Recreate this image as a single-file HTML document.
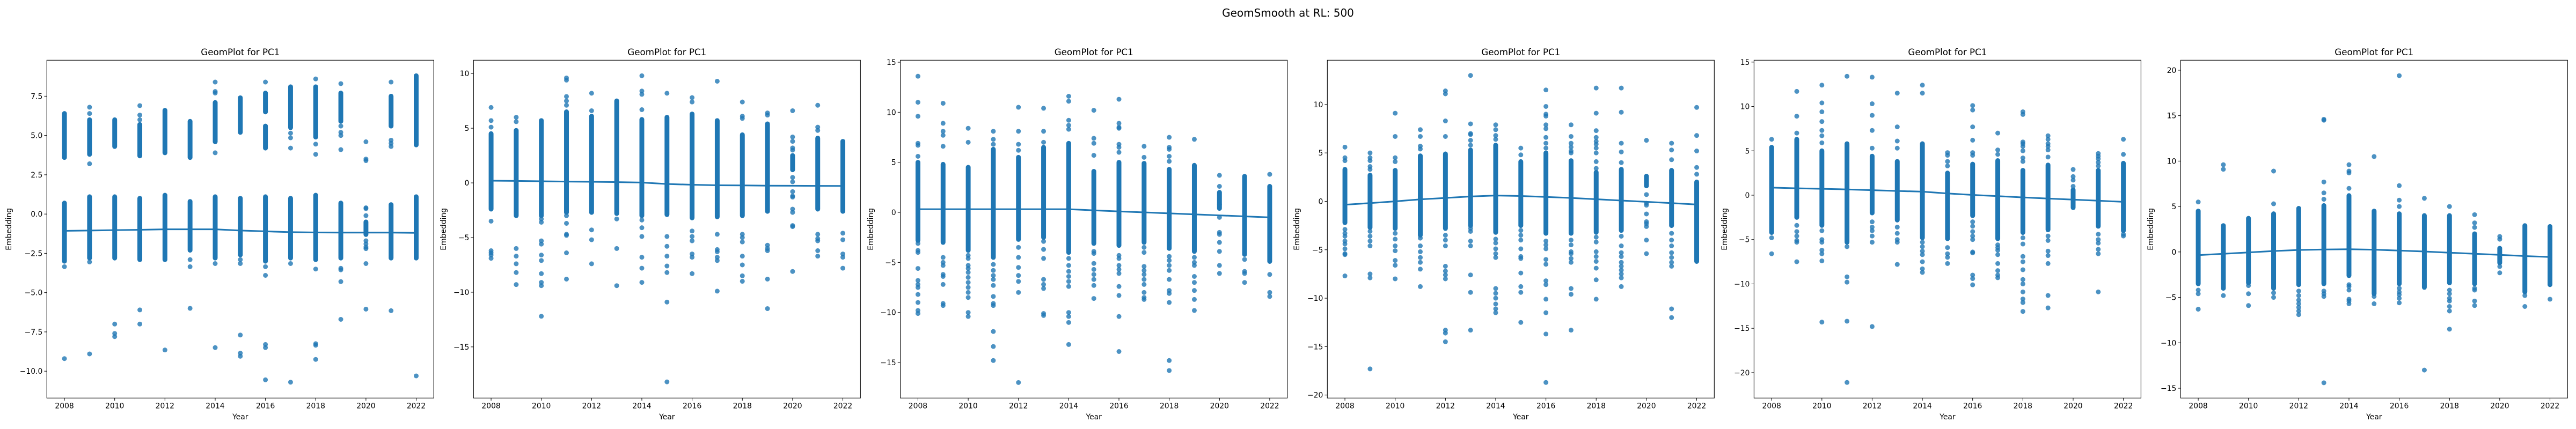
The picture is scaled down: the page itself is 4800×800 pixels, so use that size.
<!DOCTYPE html>
<html><head><meta charset="utf-8"><style>
html,body{margin:0;padding:0;background:#fff;}
svg{display:block;font-family:"DejaVu Sans","Liberation Sans",sans-serif;}
</style></head><body>
<svg id="chart" width="4800" height="800" viewBox="0 0 4800 800" xmlns="http://www.w3.org/2000/svg">
<rect x="0" y="0" width="4800" height="800" fill="#fff"/>
<text x="2400" y="31" text-anchor="middle" font-size="20" fill="#000">GeomSmooth at RL: 500</text>
</svg>
<script>
// ---------- shared data ----------
const years = [2008,2009,2010,2011,2012,2013,2014,2015,2016,2017,2018,2019,2020,2021,2022];
const xTicks = [2008,2010,2012,2014,2016,2018,2020,2022];

// ---------- panel 1 ----------
const p1Ticks = [-10,-7.5,-5,-2.5,0,2.5,5,7.5];
const p1Bands = [[[3.6,6.4],[-3.0,0.7]],[[3.8,6.0],[-2.8,1.1]],[[4.3,6.0],[-2.8,1.1]],[[3.7,5.7],[-2.9,1.0]],[[3.9,6.6],[-2.9,1.2]],[[3.6,5.9],[-2.3,0.8]],[[4.6,7.1],[-2.8,1.1]],[[5.2,7.4],[-2.6,1.0]],[[6.5,7.7],[4.2,5.6],[-3.0,1.1]],[[5.5,8.1],[-2.8,1.0]],[[4.9,8.1],[-2.9,1.2]],[[5.9,7.7],[-2.8,0.7]],[[-1.3,-0.5]],[[5.6,7.5],[-2.8,0.6]],[[4.4,8.8],[-2.8,1.1]]];
const p1Points = [[-3.35,-9.2],[6.4,6.8,3.2,-3.05,-8.9],[-7.0,-7.6,-7.8],[6.0,6.3,6.9,-6.1,-7.0],[-8.65],[-2.9,-3.35,-6.0],[3.9,7.7,7.8,8.4,-3.15,-8.5],[-2.9,-3.15,-7.7,-8.85,-9.05],[8.4,-3.35,-3.9,-8.3,-8.5,-10.55],[4.85,5.15,4.2,-3.15,-10.7],[8.6,4.45,3.8,-3.5,-8.25,-8.35,-9.25],[8.3,5.6,5.2,5.0,4.1,-3.45,-3.55,-4.3,-6.7],[4.6,3.5,3.4,0.4,0.35,-0.1,-1.7,-1.9,-2.1,-2.2,-3.15,-6.05],[8.4,4.3,4.5,4.7,-6.15],[-10.3]];
const p1Smooth = [-1.07,-1.05,-1.02,-1.0,-0.97,-0.97,-0.97,-1.05,-1.1,-1.15,-1.17,-1.18,-1.18,-1.18,-1.2];

// ---------- panel 2 ----------
const p2Ticks = [-15,-10,-5,0,5,10];
const p2Bands = [[[-2.4,4.5]],[[-3.0,4.8]],[[-3.0,5.7]],[[-2.7,6.5]],[[-2.7,6.1]],[[-2.8,7.5]],[[-3.0,5.8]],[[-2.9,6.0]],[[-3.2,6.3]],[[-3.1,5.7]],[[-3.0,4.4]],[[-2.6,5.4]],[[1.2,2.5]],[[-2.4,4.1]],[[-2.6,3.8]]];
const p2Points = [[5.1,5.7,6.9,-3.5,-6.2,-6.4,-6.6,-6.9],[5.6,6.0,-6.0,-6.7,-7.4,-8.2,-9.3],[-3.3,-3.6,-5.3,-5.6,-6.6,-7.1,-8.3,-9.1,-9.4,-12.2],[7.1,7.5,7.9,9.4,9.6,-3.0,-3.7,-4.7,-4.8,-6.4,-8.8],[6.6,8.2,-4.3,-5.2,-7.4],[-3.3,-6.0,-9.4],[6.7,8.1,8.4,9.8,-3.4,-4.1,-4.9,-6.8,-7.8,-9.1],[8.2,-4.9,-5.8,-6.7,-7.6,-8.2,-10.9,-18.2],[7.4,7.8,-4.4,-4.9,-5.3,-6.5,-6.8,-8.3],[9.3,-4.7,-6.1,-6.3,-6.8,-7.1,-9.9],[5.9,6.1,7.4,-4.7,-5.0,-5.4,-6.7,-7.5,-8.5,-9.0],[6.2,6.4,-5.7,-6.0,-6.2,-8.8,-11.5],[6.6,4.2,3.8,3.2,3.0,0.5,0.1,-0.8,-1.2,-1.3,-2.4,-2.7,-3.9,-4.0,-8.1],[5.1,4.8,7.1,-4.7,-5.1,-5.3,-6.2,-6.7],[-4.6,-5.2,-6.5,-6.8,-7.8]];
const p2Smooth = [0.2,0.18,0.15,0.12,0.1,0.07,0.03,-0.1,-0.17,-0.22,-0.23,-0.25,-0.26,-0.27,-0.28];

// ---------- panel 3 ----------
const p3Ticks = [-15,-10,-5,0,5,10,15];
const p3Bands = [[[-2.8,5.0]],[[-3.0,4.8]],[[-3.8,4.5]],[[-4.5,6.3]],[[-2.7,5.5]],[[-2.5,6.5]],[[-4.0,6.9]],[[-3.1,4.1]],[[-3.3,5.0]],[[-3.0,4.9]],[[-3.6,4.3]],[[-3.9,4.7]],[[0.4,2.0]],[[-4.2,3.6]],[[-4.9,2.6]]];
const p3Points = [[5.6,6.7,6.9,9.6,11.0,13.6,-3.1,-3.8,-4.0,-5.6,-6.8,-7.2,-7.5,-8.2,-9.0,-9.8,-10.1],[6.6,7.7,8.1,8.9,10.9,-4.5,-5.0,-5.3,-6.2,-6.4,-7.2,-9.1,-9.3],[7.0,8.4,-4.3,-4.6,-5.3,-5.6,-6.0,-6.5,-7.0,-7.5,-8.0,-8.5,-10.0,-10.4],[6.8,7.3,8.1,-5.2,-5.8,-6.3,-6.7,-7.3,-8.4,-9.1,-9.3,-11.9,-13.4,-14.8],[6.2,6.8,8.1,10.5,-3.5,-4.5,-5.5,-6.3,-6.9,-8.0,-17.0],[7.0,8.1,10.4,-2.9,-3.7,-4.6,-6.7,-7.2,-7.6,-10.1,-10.3],[8.3,8.7,9.2,11.1,11.6,-4.6,-5.3,-5.9,-6.4,-6.9,-7.4,-10.0,-10.4,-11.0,-13.2],[5.7,6.9,7.4,10.2,-3.9,-4.1,-5.1,-5.7,-6.2,-6.7,-7.3,-8.6],[6.0,6.5,6.8,8.4,8.5,8.9,11.3,-4.3,-4.6,-5.3,-5.7,-6.1,-7.4,-8.3,-10.4,-13.9],[5.5,6.6,-3.5,-4.0,-5.4,-5.8,-6.2,-6.7,-7.2,-8.0,-8.5,-8.7],[5.1,5.6,6.3,6.5,7.5,-4.4,-4.8,-5.3,-5.8,-6.7,-7.8,-8.1,-9.0,-14.8,-15.8],[7.3,-4.5,-5.0,-5.3,-6.4,-7.0,-7.8,-8.7,-9.8],[2.6,3.7,0.8,-0.5,-2.0,-2.2,-3.0,-3.9,-5.3,-6.1],[-4.7,-5.9,-6.1,-7.0],[3.8,-6.2,-8.0,-8.4]];
const p3Smooth = [0.32,0.32,0.32,0.32,0.32,0.32,0.32,0.2,0.1,0.0,-0.1,-0.2,-0.3,-0.4,-0.5];

// ---------- panel 4 ----------
const p4Ticks = [-20,-15,-10,-5,0,5,10];
const p4Bands = [[[-2.2,3.3]],[[-2.7,2.7]],[[-2.8,3.2]],[[-3.5,4.7]],[[-2.8,4.9]],[[-2.5,5.3]],[[-3.2,5.8]],[[-2.5,4.1]],[[-3.3,5.0]],[[-3.3,4.2]],[[-3.2,3.0]],[[-3.0,3.3]],[[1.6,2.6]],[[-2.5,3.2]],[[-6.2,2.0]]];
const p4Points = [[4.2,4.5,5.6,-2.9,-3.3,-3.6,-4.1,-4.4,-4.9,-5.4,-5.5,-7.7],[3.3,3.6,4.2,4.5,5.0,-3.1,-3.6,-4.1,-4.6,-7.5,-7.9,-17.3],[4.1,4.5,6.7,9.1,-3.3,-3.9,-4.6,-5.1,-6.1,-6.6,-8.0],[5.4,5.7,6.7,7.4,-3.8,-4.6,-5.2,-5.8,-6.3,-7.0,-8.8],[6.7,8.3,11.1,11.4,-3.5,-4.0,-4.6,-6.7,-7.2,-7.6,-8.0,-13.3,-13.6,-14.5],[5.8,6.3,6.9,7.0,8.0,13.0,-2.8,-3.1,-4.1,-4.6,-7.6,-9.4,-13.3],[6.4,6.8,7.4,7.9,-3.9,-4.3,-4.9,-5.4,-5.8,-9.0,-9.5,-10.0,-10.6,-11.1,-11.5],[4.8,5.5,-3.0,-3.5,-4.0,-4.9,-5.7,-5.9,-7.4,-8.8,-9.4,-12.5],[5.5,6.0,6.6,7.5,7.9,8.8,9.0,9.8,11.5,-4.1,-4.5,-4.9,-6.0,-6.5,-8.2,-8.6,-10.1,-11.5,-13.7,-18.7],[5.0,5.2,5.6,6.0,6.7,7.9,-4.0,-4.5,-5.2,-5.4,-5.9,-6.3,-9.0,-9.6,-13.3],[3.4,4.1,5.0,5.5,5.9,6.2,6.6,7.3,9.1,11.7,-3.7,-4.2,-5.2,-5.7,-6.2,-6.9,-8.1,-10.1],[4.0,5.1,6.0,9.2,11.7,-3.6,-4.6,-5.3,-5.7,-6.3,-6.7,-7.1,-7.5,-7.9,-8.8],[6.3,0.7,-0.2,-0.4,-1.3,-2.1,-2.3,-2.6,-4.0,-5.4],[4.3,5.3,6.0,-3.3,-4.0,-4.6,-5.3,-5.8,-6.3,-6.7,-11.1,-12.0],[2.8,3.5,5.2,6.8,9.7]];
const p4Smooth = [-0.35,-0.18,0.0,0.2,0.35,0.5,0.6,0.55,0.45,0.35,0.22,0.08,-0.05,-0.18,-0.33];

// ---------- panel 5 ----------
const p5Ticks = [-20,-15,-10,-5,0,5,10,15];
const p5Bands = [[[-4.2,5.4]],[[-2.5,6.3]],[[-3.4,5.0]],[[-5.3,5.8]],[[-2.0,4.4]],[[-2.8,3.8]],[[-4.8,5.8]],[[-4.9,2.5]],[[-2.3,3.5]],[[-4.9,3.9]],[[-4.2,2.8]],[[-3.9,3.4]],[[-1.4,0.6]],[[-3.5,2.8]],[[-4.0,3.6]]];
const p5Points = [[6.3,-4.8,-6.6],[7.0,8.9,11.7,-3.4,-4.1,-4.6,-5.1,-5.3,-7.5],[5.9,6.7,7.3,8.3,9.4,10.4,12.4,-4.0,-5.0,-5.3,-6.2,-6.6,-7.4,-14.3],[13.4,-5.8,-9.2,-9.8,-14.2,-21.1],[5.3,7.3,9.0,10.3,13.3,-3.0,-3.6,-4.0,-4.6,-5.3,-14.8],[5.3,6.1,7.7,11.5,-3.6,-4.3,-5.0,-5.3,-7.8],[11.5,12.4,-5.3,-5.8,-6.3,-6.7,-7.5,-8.3,-8.7],[3.3,3.8,4.5,4.8,-5.9,-6.6,-7.0,-7.7],[4.5,4.8,6.2,7.7,9.6,10.1,-3.0,-3.5,-4.1,-4.6,-5.0,-6.4,-6.5,-9.0,-9.4,-10.1],[4.6,5.1,7.0,-5.6,-5.9,-6.2,-6.7,-7.7,-8.5,-9.0,-9.3],[3.8,4.2,5.0,5.5,5.8,6.0,9.1,9.4,-4.8,-5.5,-6.9,-7.5,-8.4,-9.5,-10.0,-10.9,-11.7,-12.1,-13.1],[4.3,5.1,5.5,5.8,6.3,6.7,-4.6,-5.1,-6.3,-6.8,-7.7,-11.3,-12.7],[1.0,1.7,2.1,2.9],[3.3,3.7,4.1,4.4,4.7,-4.4,-5.0,-5.4,-6.1,-6.6,-10.9],[4.6,6.3,-4.4,-4.6]];
const p5Smooth = [0.85,0.78,0.72,0.65,0.57,0.48,0.4,0.2,0.03,-0.1,-0.25,-0.38,-0.5,-0.62,-0.75];

// ---------- panel 6 ----------
const p6Ticks = [-15,-10,-5,0,5,10,15,20];
const p6Bands = [[[-3.5,4.5]],[[-4.0,2.9]],[[-3.4,3.7]],[[-4.0,4.2]],[[-3.6,4.8]],[[-3.5,5.1]],[[-2.6,6.2]],[[-4.6,4.5]],[[-3.5,4.2]],[[-3.9,4.0]],[[-3.4,4.0]],[[-3.5,2.0]],[[-1.2,0.4]],[[-4.4,2.9]],[[-3.6,2.8]]];
const p6Points = [[5.5,-4.2,-4.6,-6.3],[9.1,9.6,-4.8],[-3.7,-4.6,-5.9],[5.3,8.9,-4.5,-5.0],[-4.3,-4.8,-5.3,-5.7,-6.1,-6.5,-6.9],[5.8,6.5,7.7,14.5,14.6,-4.3,-4.6,-4.9,-14.4],[7.0,8.7,8.9,9.6,-3.6,-3.8,-4.2,-5.2,-5.4,-5.7],[10.5,-4.9,-5.7],[5.0,5.7,7.3,19.4,-4.0,-4.4,-4.7,-5.1,-5.6],[5.9,-13.0],[5.0,-4.2,-4.6,-5.1,-5.4,-6.0,-6.5,-8.5],[2.7,3.2,4.1,-4.0,-4.2,-5.4,-5.9],[1.4,1.7,-1.6,-2.3],[-4.8,-6.0],[-5.2]];
const p6Smooth = [-0.35,-0.2,-0.05,0.1,0.22,0.27,0.3,0.25,0.15,0.05,-0.08,-0.2,-0.32,-0.45,-0.55];

// ---------- layout (not data) ----------
const panels = [
  {left:87.3,  yMin:-11.71, yMax:9.79,  ticks:p1Ticks, dec:1, bands:p1Bands, pts:p1Points, smooth:p1Smooth, ylx:21},
  {left:882.3, yMin:-19.68, yMax:11.22, ticks:p2Ticks, dec:0, bands:p2Bands, pts:p2Points, smooth:p2Smooth, ylx:831},
  {left:1677.7,yMin:-18.55, yMax:15.2,  ticks:p3Ticks, dec:0, bands:p3Bands, pts:p3Points, smooth:p3Smooth, ylx:1627},
  {left:2473.3,yMin:-20.31, yMax:14.57, ticks:p4Ticks, dec:0, bands:p4Bands, pts:p4Points, smooth:p4Smooth, ylx:2421},
  {left:3268.4,yMin:-22.86, yMax:15.21, ticks:p5Ticks, dec:0, bands:p5Bands, pts:p5Points, smooth:p5Smooth, ylx:3218},
  {left:4063.3,yMin:-16.08, yMax:21.1,  ticks:p6Ticks, dec:0, bands:p6Bands, pts:p6Points, smooth:p6Smooth, ylx:4012}
];
const W = 721, TOP = 112.3, BOT = 742.3;
const BLUE = '#1f77b4';
const svg = document.getElementById('chart');
const NS = 'http://www.w3.org/2000/svg';
function mk(tag, attrs){ const e=document.createElementNS(NS,tag); for(const k in attrs) e.setAttribute(k,attrs[k]); return e; }
function fmt(v,dec){ const s=Math.abs(v).toFixed(dec); return (v<0?'\u2212':'')+s; }

panels.forEach((p,pi)=>{
  const xS = yr => p.left + (yr - 2007.3) * W / 15.4;
  const yS = v => TOP + (p.yMax - v) * (BOT - TOP) / (p.yMax - p.yMin);
  const g = mk('g',{});
  
  
  svg.appendChild(g);

  const clip = mk('clipPath',{id:'clip'+pi});
  clip.appendChild(mk('rect',{x:p.left,y:TOP,width:W,height:BOT-TOP}));
  g.appendChild(clip);
  const plot = mk('g',{'clip-path':'url(#clip'+pi+')'});
  
  
  g.appendChild(plot);

  years.forEach((yr,i)=>{
    p.bands[i].forEach(b=>{
      const l = mk('line',{x1:xS(yr),x2:xS(yr),y1:yS(b[0]),y2:yS(b[1]),stroke:BLUE,'stroke-width':9,'stroke-linecap':'round'});
      
      
      plot.appendChild(l);
    });
    p.pts[i].forEach(v=>{
      const c = mk('circle',{cx:xS(yr),cy:yS(v),r:4.5,fill:BLUE,'fill-opacity':0.8});
      
      
      plot.appendChild(c);
    });
  });
  const d = years.map((yr,i)=>(i?'L':'M')+xS(yr).toFixed(1)+' '+yS(p.smooth[i]).toFixed(1)).join(' ');
  const line = mk('path',{d:d,fill:'none',stroke:BLUE,'stroke-width':3});
  
  
  plot.appendChild(line);

  const frame = mk('rect',{x:p.left,y:TOP,width:W,height:BOT-TOP,fill:'none',stroke:'#000','stroke-width':1.1});
  
  
  g.appendChild(frame);

  xTicks.forEach(t=>{
    const x = xS(t);
    const tk = mk('line',{x1:x,x2:x,y1:BOT,y2:BOT+4.9,stroke:'#000','stroke-width':1});
    
    
    g.appendChild(tk);
    const tx = mk('text',{x:x,y:BOT+19,'text-anchor':'middle','font-size':13.9,fill:'#000'});
    tx.textContent = t;
    
    
    g.appendChild(tx);
  });
  p.ticks.forEach(t=>{
    const y = yS(t);
    const tk = mk('line',{x1:p.left-4.9,x2:p.left,y1:y,y2:y,stroke:'#000','stroke-width':1});
    
    
    g.appendChild(tk);
    const tx = mk('text',{x:p.left-8,y:y+5,'text-anchor':'end','font-size':13.9,fill:'#000'});
    tx.textContent = fmt(t,p.dec);
    
    
    g.appendChild(tx);
  });
  const title = mk('text',{x:p.left+W/2,y:103,'text-anchor':'middle','font-size':16.7,fill:'#000'});
  title.textContent = 'GeomPlot for PC1';
  
  
  g.appendChild(title);
  const xl = mk('text',{x:p.left+W/2,y:782,'text-anchor':'middle','font-size':13.9,fill:'#000'});
  xl.textContent = 'Year';
  
  
  g.appendChild(xl);
  const cy = (TOP+BOT)/2;
  const yl = mk('text',{x:p.ylx,y:cy,'text-anchor':'middle','font-size':13.9,fill:'#000',transform:'rotate(-90 '+p.ylx+' '+cy+')'});
  yl.textContent = 'Embedding';
  
  
  g.appendChild(yl);
});
</script>
</body></html>
